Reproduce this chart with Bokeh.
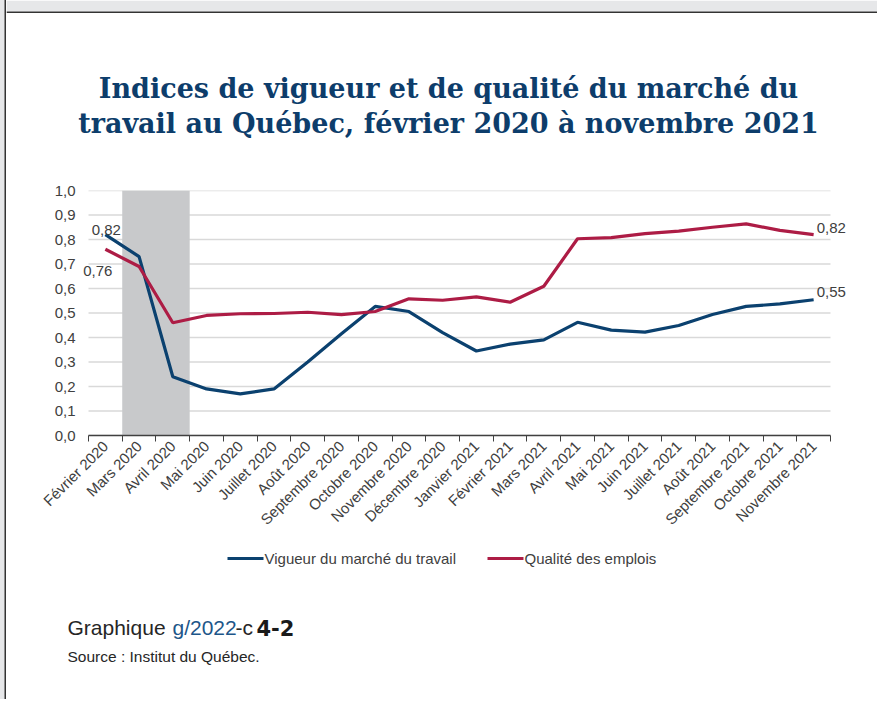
from bokeh.plotting import figure
from bokeh.models import Range1d, FixedTicker, CustomJSTickFormatter, Label
from bokeh.layouts import column
from bokeh.core.properties import value
from bokeh.embed import file_html
from bokeh.resources import INLINE
from math import pi

# ---------------- data ----------------
months = ["Février 2020", "Mars 2020", "Avril 2020", "Mai 2020", "Juin 2020",
          "Juillet 2020", "Août 2020", "Septembre 2020", "Octobre 2020",
          "Novembre 2020", "Décembre 2020", "Janvier 2021", "Février 2021",
          "Mars 2021", "Avril 2021", "Mai 2021", "Juin 2021", "Juillet 2021",
          "Août 2021", "Septembre 2021", "Octobre 2021", "Novembre 2021"]

vigueur = [0.82, 0.73, 0.24, 0.19, 0.17, 0.19, 0.30, 0.415, 0.527, 0.506,
           0.42, 0.345, 0.373, 0.39, 0.462, 0.43, 0.422, 0.449, 0.494, 0.527,
           0.537, 0.554]

qualite = [0.76, 0.69, 0.46, 0.49, 0.497, 0.498, 0.503, 0.493, 0.506, 0.558,
           0.552, 0.566, 0.544, 0.609, 0.803, 0.808, 0.824, 0.834, 0.85, 0.864,
           0.837, 0.82]

recession = ["Mars 2020", "Avril 2020"]

y_ticks = [0.0, 0.1, 0.2, 0.3, 0.4, 0.5, 0.6, 0.7, 0.8, 0.9, 1.0]

series_names = ["Vigueur du  marché du travail", "Qualité des emplois"]

title_lines = ["Indices de vigueur et de qualité du marché du",
               "travail au Québec, février 2020 à novembre 2021"]

footer_parts = ["Graphique", "g/2022", "-c", "4-2"]
source_text = "Source : Institut du Québec."

# ---------------- styles ----------------
BLUE = "#0b416f"
RED = "#ad1c45"
TXT = "#404040"
TITLE_C = "#0d3d6b"
FONT = "Liberation Sans"
FS = "15px"
OFFX = 7   # page x of the canvas (after the left margin of the box)
OFFY = 1   # page y of the canvas
W = 870
W_TOP = 871

H_TOP, H_MAIN, H_BOT = 180, 360, 159


def blank_fig(w, h, y0):
    f = figure(width=w, height=h, output_backend="svg", toolbar_location=None,
               x_range=Range1d(OFFX, w + OFFX), y_range=Range1d(y0 + h, y0),
               x_axis_location=None, y_axis_location=None,
               min_border=0, min_border_left=0, min_border_right=0,
               min_border_top=0, min_border_bottom=0, frame_align=False)
    f.outline_line_color = None
    f.grid.visible = False
    f.background_fill_color = "white"
    f.border_fill_color = "white"
    return f


# ---------------- top: title ----------------
top = blank_fig(W_TOP, H_TOP, OFFY)
top.quad(left=[OFFX], right=[W_TOP + OFFX], top=[OFFY], bottom=[12],
         fill_color="#e6e7e9", line_color=None)
top.quad(left=[OFFX], right=[W_TOP + OFFX], top=[12], bottom=[13.5],
         fill_color="#333333", line_color=None)
top.text(x=[449, 449], y=[89, 124], text=title_lines, text_align="center",
         text_baseline="alphabetic", text_font=value("DejaVu Serif"),
         text_font_style="bold", text_font_size="27px", text_color=TITLE_C)

# ---------------- main chart ----------------
ppu = 742 / len(months)          # pixels per category
x_lo = -0.5 - 9 / ppu
x_hi = len(months) - 0.5 + 19 / ppu

x = list(range(len(months)))

p = figure(width=W, height=H_MAIN, output_backend="svg", toolbar_location=None,
           x_range=Range1d(x_lo, x_hi), y_range=Range1d(0, 1),
           min_border_left=80 - OFFX, min_border_right=W + OFFX - 850,
           min_border_top=10, min_border_bottom=105, frame_align=False)
p.outline_line_color = None
p.background_fill_color = "white"
p.border_fill_color = "white"

# grid lines (limited to the category extent)
p.xgrid.visible = False
p.ygrid.visible = False
p.segment(x0=[-0.5] * len(y_ticks), x1=[len(months) - 0.5] * len(y_ticks),
          y0=y_ticks, y1=y_ticks, line_color="#d9d9d9", line_width=1.5)

# recession shading
idx = [months.index(m) for m in recession]
p.quad(left=[min(idx) - 0.5], right=[max(idx) + 0.5], bottom=[y_ticks[0]],
       top=[y_ticks[-1]], fill_color="#c8c9cb", line_color=None)

r1 = p.line(x, vigueur, line_color=BLUE, line_width=3.2)
r2 = p.line(x, qualite, line_color=RED, line_width=3.2)

# y axis
p.yaxis.ticker = FixedTicker(ticks=y_ticks)
p.yaxis.formatter = CustomJSTickFormatter(code="return tick.toFixed(1).replace('.', ',');")
p.yaxis.axis_line_color = None
p.yaxis.major_tick_line_color = None
p.yaxis.minor_tick_line_color = None
p.yaxis.major_tick_out = 0
p.yaxis.major_label_standoff = 4
p.yaxis.major_label_text_font = FONT
p.yaxis.major_label_text_font_size = FS
p.yaxis.major_label_text_color = TXT

# x axis
p.xaxis.bounds = (-0.5, len(months) - 0.5)
p.xaxis.ticker = FixedTicker(ticks=x, minor_ticks=[i - 0.5 for i in range(len(months) + 1)])
p.xaxis.formatter = CustomJSTickFormatter(args=dict(labels=months),
                                          code="return labels[Math.round(tick)] || '';")
p.xaxis.major_label_orientation = pi / 4
p.xaxis.major_tick_line_color = None
p.xaxis.major_tick_out = 4
p.xaxis.minor_tick_line_color = "#404040"
p.xaxis.minor_tick_out = 6
p.xaxis.minor_tick_in = 0
p.xaxis.axis_line_color = "#404040"
p.xaxis.axis_line_width = 1.5
p.xaxis.major_label_text_font = FONT
p.xaxis.major_label_text_font_size = FS
p.xaxis.major_label_text_color = TXT
p.xaxis.major_label_standoff = 2


def fmt(v):
    return ("%.2f" % v).replace(".", ",")


def dlabel(xv, yv, **kw):
    p.add_layout(Label(x=xv, y=yv, text=fmt(yv), text_font=FONT,
                       text_font_size=FS, text_color=TXT, **kw))


dlabel(0, vigueur[0], text_align="center", text_baseline="alphabetic", x_offset=1, y_offset=5)
dlabel(0, qualite[0], text_align="right", text_baseline="alphabetic", x_offset=7, y_offset=-22)
dlabel(x[-1], qualite[-1], text_align="left", text_baseline="alphabetic", x_offset=3, y_offset=7)
dlabel(x[-1], vigueur[-1], text_align="left", text_baseline="alphabetic", x_offset=3, y_offset=8)

# ---------------- bottom: legend + footer ----------------
bot_y0 = OFFY + H_TOP + H_MAIN
bot = blank_fig(W, H_BOT, bot_y0)

leg_x0 = [228, 488]
leg_y = 559
bot.segment(x0=leg_x0[:1], x1=[leg_x0[0] + 36], y0=[leg_y], y1=[leg_y],
            line_color=BLUE, line_width=3.2)
bot.segment(x0=leg_x0[1:], x1=[leg_x0[1] + 36], y0=[leg_y], y1=[leg_y],
            line_color=RED, line_width=3.2)
bot.text(x=[v + 37 for v in leg_x0], y=[leg_y, leg_y], text=series_names,
         text_font=value(FONT), text_font_size=FS, text_color=TXT,
         text_baseline="middle")

foot_x = [68, 173, 236, 257]
foot_c = ["#262626", "#1d5689", "#262626", "#1a1a1a"]
bot.text(x=foot_x[:3], y=[628] * 3, text=footer_parts[:3], text_color=foot_c[:3],
         text_font=value(FONT), text_font_size="21px", text_baseline="alphabetic")
bot.text(x=[foot_x[3]], y=[628], text=[footer_parts[3]], text_color=foot_c[3],
         text_font=value("DejaVu Sans"), text_font_style="bold",
         text_font_size="21px", text_baseline="alphabetic")
bot.text(x=[68], y=[657], text=[source_text], text_color="#262626",
         text_font=value(FONT), text_font_size="15.5px", text_baseline="alphabetic")

layout = column(top, p, bot, spacing=0,
                styles={"margin-left": "%dpx" % (OFFX - 1),
                        "box-shadow": "-1.5px 0 0 0 #333333, -6px 0 0 0 #e6e7e9"})
open("out.html", "w").write(file_html(layout, INLINE))
